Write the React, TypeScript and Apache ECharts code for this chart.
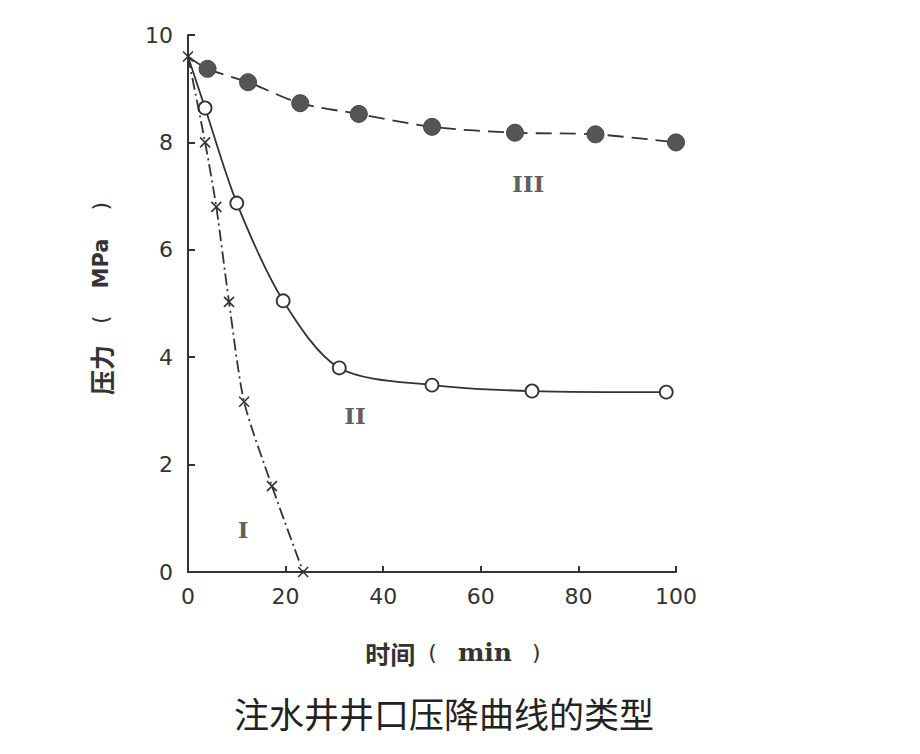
import React, { useEffect, useRef } from "react";
import * as echarts from "echarts";

const xTicks = [0, 20, 40, 60, 80, 100];
const yTicks = [0, 2, 4, 6, 8, 10];
const origin: [number, number] = [0, 9.6];

const seriesI: [number, number][] = [
  [0, 9.6], [3.5, 8.0], [5.8, 6.8], [8.4, 5.03], [11.5, 3.17], [17.2, 1.6], [23.6, 0],
];
const seriesII: [number, number][] = [
  [3.5, 8.64], [10, 6.87], [19.5, 5.05], [31, 3.8], [50, 3.48], [70.5, 3.37], [98, 3.35],
];
const seriesIII: [number, number][] = [
  [4, 9.37], [12.3, 9.12], [23, 8.73], [35, 8.53], [50, 8.29], [67, 8.18], [83.5, 8.15], [100, 8.0],
];
const curveLabels = ["I", "II", "III"];
const curveLabelPos: [number, number][] = [
  [11.3, 0.8], [34.2, 2.92], [69.7, 7.24],
];

const xNameCn = "时间";
const xNameUnit = "min";
const yNameCn = "压力";
const yNameUnit = "MPa";
const caption = "注水井井口压降曲线的类型";

const crossPath = "path://M0,0L10,10M10,0L0,10";

export default function App() {
  const ref = useRef<HTMLDivElement>(null);
  useEffect(() => {
    document.body.style.margin = "0";
    const chart = echarts.init(ref.current!, undefined, { renderer: "svg" });
    const ink = "#333";
    const tickFont = {
      color: "#333",
      fontSize: 22,
      fontFamily: "DejaVu Sans",
    };
    const nameRich = {
      c: { fontSize: 25, color: "#333", fontWeight: "bold", fontFamily: "Noto Sans CJK SC" },
      s: { fontSize: 25, color: "#333", fontWeight: "bold", fontFamily: "DejaVu Serif" },
      a: { fontSize: 21, color: "#333", fontWeight: "bold", fontFamily: "DejaVu Sans" },
      p: { fontSize: 22, color: "#333", fontFamily: "DejaVu Sans" },
      g13: { fontSize: 10, width: 13 },
      g20: { fontSize: 10, width: 20 },
      g21: { fontSize: 10, width: 21 },
      g27: { fontSize: 10, width: 27 },
      g28: { fontSize: 10, width: 28 },
    };
    chart.setOption({
      animation: false,
      backgroundColor: "#fff",
      grid: { left: 188, right: 244, top: 35, bottom: 182 },
      xAxis: {
        type: "value",
        min: 0,
        max: 100,
        interval: 20,
        name: `{c|${xNameCn}}{g13| }{p|(}{g21| }{s|${xNameUnit}}{g20| }{p|)}`,
        nameLocation: "middle",
        nameGap: 68,
        nameTextStyle: { rich: nameRich, padding: [0, 0, 0, 42] },
        axisLine: { lineStyle: { color: ink, width: 2 } },
        axisTick: { inside: true, length: 6, lineStyle: { color: ink, width: 2 } },
        axisLabel: { ...tickFont, margin: 13, formatter: (v: number) => (xTicks.includes(v) ? String(v) : "") },
        splitLine: { show: false },
      },
      yAxis: {
        type: "value",
        min: 0,
        max: 10,
        interval: 2,
        name: `{c|${yNameCn}}{g21| }{p|(}{g27| }{a|${yNameUnit}}{g28| }{p|)}`,
        nameLocation: "middle",
        nameGap: 75,
        nameRotate: 90,
        nameTextStyle: { rich: nameRich, padding: [0, 0, 0, 10] },
        axisLine: { show: true, lineStyle: { color: ink, width: 2 } },
        axisTick: { show: true, inside: true, length: 7, lineStyle: { color: ink, width: 2 } },
        axisLabel: { ...tickFont, margin: 15, formatter: (v: number) => (yTicks.includes(v) ? String(v) : "") },
        splitLine: { show: false },
      },
      series: [
        {
          name: "I",
          type: "line",
          smooth: 0.25,
          data: seriesI,
          symbol: crossPath,
          symbolSize: 10,
          itemStyle: { color: "none", borderColor: ink, borderWidth: 1.6 },
          lineStyle: { color: ink, width: 1.8, type: [12, 4, 2, 4] },
          z: 3,
        },
        {
          name: "II",
          type: "line",
          smooth: 0.3,
          data: [{ value: origin, symbol: "none" }, ...seriesII.map((p) => ({ value: p }))],
          symbol: "circle",
          symbolSize: 13,
          itemStyle: { color: "#fff", borderColor: ink, borderWidth: 1.8 },
          lineStyle: { color: ink, width: 1.8 },
          z: 2,
        },
        {
          name: "III",
          type: "line",
          smooth: 0.3,
          data: [{ value: origin, symbol: "none" }, ...seriesIII.map((p) => ({ value: p }))],
          symbol: "circle",
          symbolSize: 17,
          itemStyle: { color: "#555", borderColor: "#444", borderWidth: 1 },
          lineStyle: { color: ink, width: 1.8, type: [16, 8] },
          z: 2,
        },
        {
          name: "labels",
          type: "scatter",
          symbolSize: 0,
          silent: true,
          data: curveLabelPos.map((p, i) => ({ value: p, name: curveLabels[i] })),
          label: {
            show: true,
            position: "inside",
            formatter: (p: any) => p.name,
            fontSize: 23,
            fontFamily: "DejaVu Serif",
            fontWeight: "bold",
            color: "#333",
          },
        },
      ],
      graphic: [
        {
          type: "text",
          x: 444,
          y: 712,
          style: {
            text: caption,
            fontSize: 35,
            fontFamily: "Noto Sans CJK SC",
            fill: "#222",
            textAlign: "center",
            textVerticalAlign: "middle",
          },
        },
      ],
    });
    return () => chart.dispose();
  }, []);
  return <div ref={ref} style={{ width: 920, height: 754 }} />;
}
